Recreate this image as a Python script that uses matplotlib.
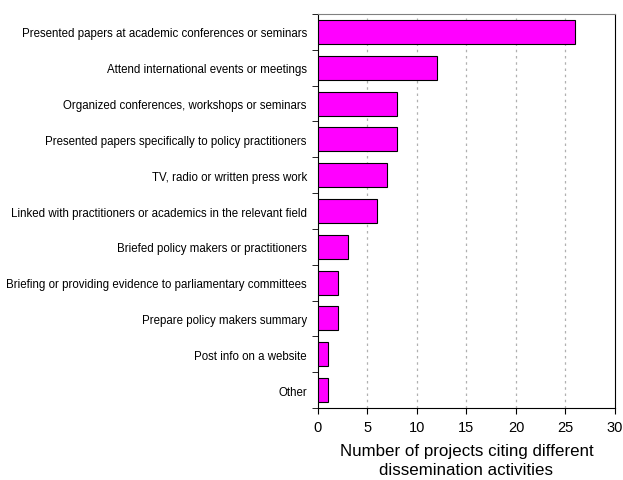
import numpy as np
import matplotlib
matplotlib.use("Agg")
import matplotlib.pyplot as plt

plt.rcParams["font.family"] = ["Liberation Sans", "DejaVu Sans"]

activities = [
    "Presented papers at academic conferences or seminars",
    "Attend international events or meetings",
    "Organized conferences, workshops or seminars",
    "Presented papers specifically to policy practitioners",
    "TV, radio or written press work",
    "Linked with practitioners or academics in the relevant field",
    "Briefed policy makers or practitioners",
    "Briefing or providing evidence to parliamentary committees",
    "Prepare policy makers summary",
    "Post info on a website",
    "Other",
]
counts = [26, 12, 8, 8, 7, 6, 3, 2, 2, 1, 1]
x_ticks = [0, 5, 10, 15, 20, 25, 30]

fig = plt.figure(figsize=(6.23, 4.81), dpi=100)
ax = fig.add_axes([0.5104, 0.1497, 0.4767, 0.8191])

y = np.arange(len(activities))
ax.barh(y, counts, height=0.67, color="#ff00ff", edgecolor="black", linewidth=0.8, zorder=3)

ax.set_xlim(0, 30)
ax.set_ylim(len(activities) - 0.5, -0.5)
ax.set_xticks(x_ticks)
ax.tick_params(axis="x", direction="out", length=4, labelsize=10.5, pad=5)

ax.set_yticks(y)
ax.set_yticklabels(activities, fontsize=8.3)
ax.set_yticks(np.arange(len(activities) + 1) - 0.5, minor=True)
ax.tick_params(axis="y", which="major", length=0, pad=8)
ax.tick_params(axis="y", which="minor", length=4, direction="out")

for v in x_ticks[1:-1]:
    ax.axvline(v, color="#b0b0b0", linestyle=(0, (2, 3)), linewidth=0.9, zorder=1)

for s in ax.spines.values():
    s.set_linewidth(0.8)
ax.spines["top"].set_color("#808080")

ax.set_xlabel("Number of projects citing different\ndissemination activities",
              fontsize=12.2, labelpad=6, linespacing=1.35)

fig.savefig("out.png", dpi=100)
